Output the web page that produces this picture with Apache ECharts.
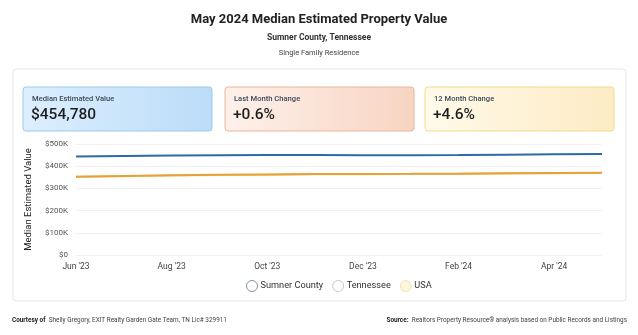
<!DOCTYPE html>
<html>
<head>
<meta charset="utf-8">
<script src="https://cdn.jsdelivr.net/npm/echarts@6/dist/echarts.min.js"></script>
<style>
html,body{margin:0;padding:0;background:#fff;}
#c{width:638px;height:335px;}
</style>
</head>
<body>
<div id="c"></div>
<script>
var months = ["Jun '23","Jul '23","Aug '23","Sep '23","Oct '23","Nov '23","Dec '23","Jan '24","Feb '24","Mar '24","Apr '24","May '24"];
var sumnerCounty = [444000,446000,448000,449500,450000,450500,449500,449000,450000,452000,453500,454780];
var tennessee = [353000,356000,359000,361000,363000,364500,365000,365500,366500,368000,369500,370500];
var usa = [352000,355000,358000,360000,362000,363500,364000,364500,365500,367000,368500,369500];
var yTicks = [0,100000,200000,300000,400000,500000];
var cards = [
  {label:"Median Estimated Value", value:"$454,780"},
  {label:"Last Month Change", value:"+0.6%"},
  {label:"12 Month Change", value:"+4.6%"}
];

var FONT = "Roboto, 'Noto Sans', sans-serif";
var chart = echarts.init(document.getElementById('c'), null, {renderer:'canvas'});

var cardStyles = [
  {x:23, c0:'#dcefff', c1:'#bcdcf8', stroke:'#9cc9ef'},
  {x:225, c0:'#fdf1ea', c1:'#f8d4c2', stroke:'#eab49a'},
  {x:425, c0:'#fffaea', c1:'#fdebc4', stroke:'#f1db8c'}
];
var graphics = [
  {type:'rect', shape:{x:13,y:69,width:613,height:232,r:3}, style:{fill:'#fff',stroke:'#e6e6e6',lineWidth:1}, z:-10}
];
cards.forEach(function(c,i){
  var s = cardStyles[i];
  graphics.push({type:'rect', shape:{x:s.x,y:87,width:189,height:44,r:3},
    style:{fill:new echarts.graphic.LinearGradient(0,0,1,0,[{offset:0,color:s.c0},{offset:1,color:s.c1}]),stroke:s.stroke,lineWidth:1}, z:-5});
  graphics.push({type:'text', left:s.x+9, top:95, style:{text:c.label, font:"500 7.6px "+FONT, fill:'#3d4a57'}});
  graphics.push({type:'text', left:s.x+8, top:107, style:{text:c.value, font:"500 15.5px "+FONT, fill:'#1e1e1e'}});
});
graphics.push({type:'text', left:12, top:314, style:{
  rich:{b:{font:"bold 6.4px "+FONT, fill:'#222'}, n:{font:"6.4px "+FONT, fill:'#444'}},
  text:"{b|Courtesy of} {n|Shelly Gregory, EXIT Realty Garden Gate Team, TN Lic# 329911}"}});
graphics.push({type:'text', right:11, top:314, style:{
  rich:{b:{font:"bold 6.4px "+FONT, fill:'#222'}, n:{font:"6.4px "+FONT, fill:'#444'}},
  text:"{b|Source:} {n|Realtors Property Resource® analysis based on Public Records and Listings}"}});

function mk(name, data, color, z){
  return {name:name, type:'line', data:data, symbol:'none', smooth:false, z:z,
    lineStyle:{color:color,width:2}, itemStyle:{color:color}};
}

chart.setOption({
  backgroundColor:'#fff',
  animation:false,
  textStyle:{fontFamily:FONT},
  title:[
    {text:"May 2024 Median Estimated Property Value", left:'center', top:8, textStyle:{fontFamily:FONT,fontSize:13,fontWeight:'bold',color:'#222'}},
    {text:"Sumner County, Tennessee", left:'center', top:28, textStyle:{fontFamily:FONT,fontSize:8.5,fontWeight:'bold',color:'#333'}},
    {text:"Single Family Residence", left:'center', top:44, textStyle:{fontFamily:FONT,fontSize:7.5,fontWeight:'normal',color:'#444'}}
  ],
  graphic:graphics,
  legend:{
    top:275, left:241, itemGap:9, itemWidth:11, itemHeight:11,
    icon:'circle',
    textStyle:{fontFamily:FONT,fontSize:9.2,color:'#333', padding:[0,0,0,-2]},
    data:[
      {name:'Sumner County', itemStyle:{color:'#fff',borderColor:'#8596a8',borderWidth:1}},
      {name:'Tennessee', itemStyle:{color:'#fff',borderColor:'#cfc8c0',borderWidth:1}},
      {name:'USA', itemStyle:{color:'#fbf6dc',borderColor:'#efe4b0',borderWidth:1}}
    ]
  },
  grid:{left:76, right:36, top:144, bottom:80, containLabel:false},
  xAxis:{
    type:'category', data:months, boundaryGap:false,
    axisLine:{show:false}, axisTick:{show:false},
    axisLabel:{interval:1, fontFamily:FONT, fontSize:8.5, color:'#444', margin:7},
    splitLine:{show:false}
  },
  yAxis:{
    type:'value', min:0, max:500000, interval:100000,
    name:'Median Estimated Value', nameLocation:'middle', nameGap:34, nameRotate:90,
    nameTextStyle:{fontFamily:FONT, fontSize:9.5, color:'#222'},
    axisLine:{show:false}, axisTick:{show:false},
    axisLabel:{fontFamily:FONT, fontSize:8, color:'#555', margin:8,
      formatter:function(v){ return v===0 ? '$0' : '$'+(v/1000)+'K'; }},
    splitLine:{lineStyle:{color:'#f0f0f0', width:1}}
  },
  series:[
    mk('Sumner County', sumnerCounty, '#2a6ca6', 3),
    mk('Tennessee', tennessee, '#e6a13a', 2),
    mk('USA', usa, '#f3d37a', 1)
  ]
});
</script>
</body>
</html>
